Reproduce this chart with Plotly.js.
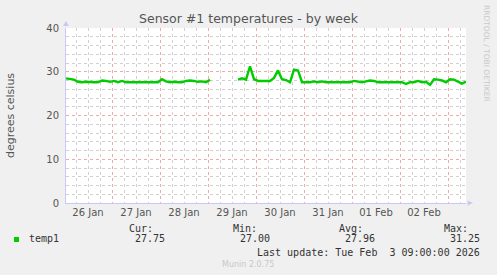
<!DOCTYPE html>
<html><head><meta charset="utf-8">
<script src="https://cdn.plot.ly/plotly-3.0.1.min.js"></script>
<style>html,body{margin:0;padding:0;background:#f0f0f0;}#chart{width:497px;height:275px;}</style>
</head><body><div id="chart"></div>
<script>
// ---- data ----
const chartTitle = 'Sensor #1 temperatures - by week';
const yTitle = 'degrees celsius';
const seriesName = 'temp1';
const startTime = Date.UTC(2026, 0, 26, 1, 0, 0); // first sample
const stepHours = 2;
const temp1 = [
  28.5, 28.3, 28.2, 27.7, 27.6, 27.7, 27.6, 27.6, 27.6, 28.0,
  27.9, 27.7, 27.9, 27.6, 27.9, 27.6, 27.6, 27.6, 27.7, 27.6,
  27.7, 27.6, 27.7, 27.6, 28.3, 27.8, 27.6, 27.7, 27.6, 27.6,
  27.9, 28.0, 27.9, 27.7, 27.8, 27.6, 28.2,
  null, null, null, null, null, null,
  28.2, 28.5, 28.2, 31.25, 28.3, 27.9, 27.9,
  27.9, 27.9, 28.6, 30.3, 28.3, 28.1, 27.6, 30.5, 30.3, 27.6,
  27.6, 27.6, 27.8, 27.6, 27.8, 27.6, 27.6, 27.6, 27.6, 27.6,
  27.6, 27.6, 27.9, 27.7, 27.6, 27.8, 28.0, 27.9, 27.6, 27.6,
  27.6, 27.6, 27.6, 27.6, 27.6, 27.2, 27.6, 27.6, 27.9, 27.6,
  27.7, 27.0, 28.3, 28.2, 28.0, 27.6, 28.3, 28.2, 27.8, 27.3, 27.75
];
const statLabels = ['Cur:', 'Min:', 'Avg:', 'Max:'];
const statValues = ['27.75', '27.00', '27.96', '31.25'];
const lastUpdate = 'Last update: Tue Feb \u00a03 09:00:00 2026';
const footer = 'Munin 2.0.75';
const watermark = 'RRDTOOL / TOBI OETIKER';
const xRange = ['2026-01-26 01:00', '2026-02-03 09:00'];
const yRange = [0, 40];

// ---- build ----
function fmt(ms) { return new Date(ms).toISOString().slice(0, 19).replace('T', ' '); }
const times = temp1.map((v, i) => fmt(startTime + i * stepHours * 3600000));

const lineGreen = '#00cc00';
const txt = '#555555';
const axisBlue = '#c8c8f8';
const majorGrid = '#eeaaaa';
const minorGrid = '#d0d0d0';

const statX = [0.2225, 0.4825, 0.7475, 1.01];
const valX = [0.2525, 0.515, 0.7775, 1.04];

const ann = [];
statLabels.forEach((s, i) => ann.push({text: s, xref: 'paper', yref: 'paper', x: statX[i], y: -0.143, xanchor: 'right', yanchor: 'middle', showarrow: false, font: {family: 'DejaVu Sans Mono', size: 10, color: '#333'}}));
statValues.forEach((s, i) => ann.push({text: s, xref: 'paper', yref: 'paper', x: valX[i], y: -0.2057, xanchor: 'right', yanchor: 'middle', showarrow: false, font: {family: 'DejaVu Sans Mono', size: 10, color: '#333'}}));
ann.push({text: seriesName, xref: 'paper', yref: 'paper', x: -0.0975, y: -0.2057, xanchor: 'left', yanchor: 'middle', showarrow: false, font: {family: 'DejaVu Sans Mono', size: 10, color: '#333'}});
ann.push({text: lastUpdate, xref: 'paper', yref: 'paper', x: 1.04, y: -0.28, xanchor: 'right', yanchor: 'middle', showarrow: false, font: {family: 'DejaVu Sans Mono', size: 10, color: '#333'}});
ann.push({text: footer, xref: 'paper', yref: 'paper', x: 0.455, y: -0.3486, xanchor: 'center', yanchor: 'middle', showarrow: false, font: {family: 'DejaVu Sans', size: 8, color: '#c8c8c8'}});
ann.push({text: watermark, xref: 'paper', yref: 'paper', x: 1.0525, y: 0.857, xanchor: 'center', yanchor: 'middle', textangle: 90, showarrow: false, font: {family: 'DejaVu Sans', size: 7.5, color: '#c8c8c8'}});

const shapes = [
  {type: 'rect', xref: 'paper', yref: 'paper', x0: -0.13, x1: -0.1175, y0: -0.223, y1: -0.194, fillcolor: lineGreen, line: {width: 0}},
  {type: 'path', xref: 'paper', yref: 'paper', path: 'M -0.0075 1.011 L 0.0075 1.011 L 0 1.04 Z', fillcolor: axisBlue, line: {width: 0}},
  {type: 'path', xref: 'paper', yref: 'paper', path: 'M 1.004 0.0143 L 1.004 -0.0143 L 1.0175 0 Z', fillcolor: axisBlue, line: {width: 0}}
];

const trace = {
  x: times, y: temp1, type: 'scatter', mode: 'lines', name: seriesName,
  line: {color: lineGreen, width: 2.4}, connectgaps: false, hoverinfo: 'skip'
};

const layout = {
  width: 497, height: 275,
  paper_bgcolor: '#f0f0f0', plot_bgcolor: '#ffffff',
  margin: {l: 66, r: 31, t: 28, b: 72},
  showlegend: false,
  title: {text: chartTitle, x: 0.5, xref: 'container', xanchor: 'center', y: 0.931, yref: 'container', yanchor: 'middle', font: {family: 'DejaVu Sans', size: 12.5, color: txt}},
  xaxis: {
    type: 'date', range: xRange, tickformat: '%d %b', dtick: 86400000, tick0: '2026-01-26 00:00',
    ticklabelmode: 'period', ticks: '', showgrid: true, gridcolor: majorGrid, griddash: 'dot', gridwidth: 1,
    minor: {dtick: 21600000, tick0: '2026-01-26 00:00', showgrid: true, gridcolor: minorGrid, griddash: 'dot', gridwidth: 1},
    showline: true, linecolor: axisBlue, linewidth: 1, zeroline: false,
    tickfont: {family: 'DejaVu Sans', size: 10, color: txt}, fixedrange: true
  },
  yaxis: {
    range: yRange, dtick: 10, tick0: 0, ticks: '', showgrid: true, gridcolor: majorGrid, griddash: 'dot', gridwidth: 1,
    minor: {dtick: 2, showgrid: true, gridcolor: minorGrid, griddash: 'dot', gridwidth: 1},
    showline: true, linecolor: axisBlue, linewidth: 1, zeroline: false,
    tickfont: {family: 'DejaVu Sans', size: 10, color: txt}, ticklabelstandoff: 4,
    title: {text: yTitle, font: {family: 'DejaVu Sans', size: 11, color: txt}, standoff: 29}, fixedrange: true
  },
  annotations: ann,
  shapes: shapes
};

Plotly.newPlot('chart', [trace], layout, {displayModeBar: false, staticPlot: true});
</script>
</body></html>
